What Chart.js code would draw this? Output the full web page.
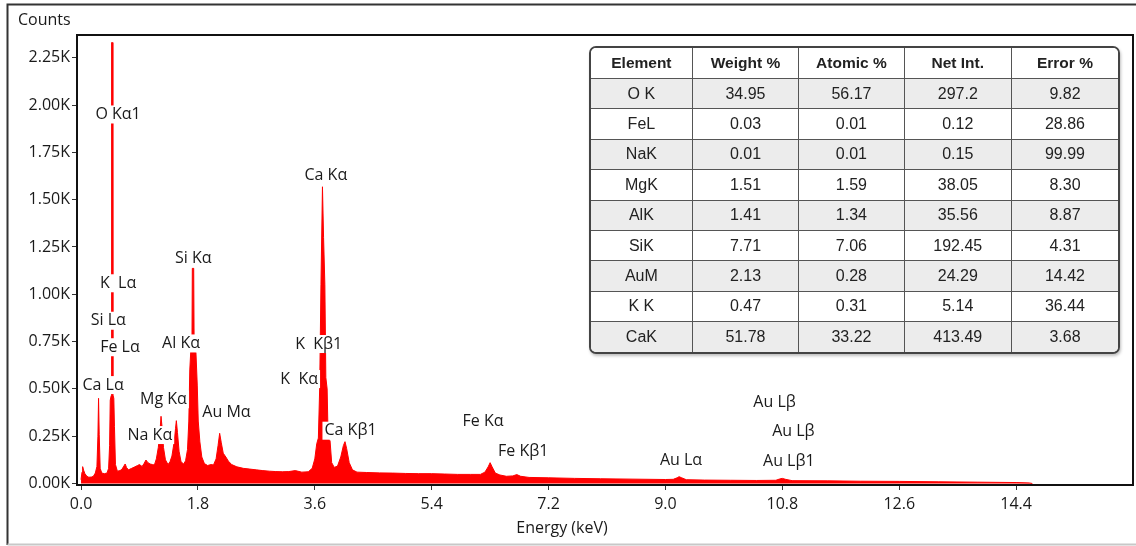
<!DOCTYPE html>
<html>
<head>
<meta charset="utf-8">
<script src="https://cdn.jsdelivr.net/npm/chart.js@4.4.1/dist/chart.umd.min.js"></script>
<style>
    html, body { margin: 0; padding: 0; background: #fff; }
    #wrap { position: relative; width: 1136px; height: 546px; overflow: hidden; }
    #cvs_espectro { position: absolute; left: 0; top: 0; }
    #tabela {
        position: absolute; left: 589px; top: 46px; width: 531px;
        border-collapse: separate; border-spacing: 0;
        border: 2px solid #444; border-radius: 7px; overflow: hidden;
        font-family: "Liberation Sans", Arial, sans-serif; font-size: 16px; color: #222;
        box-shadow: 1px 2px 3px rgba(0, 0, 0, 0.25); background: #fff;
    }
    #tabela th, #tabela td {
        text-align: center; padding: 0; border-right: 1px solid #555; border-bottom: 1px solid #555;
    }
    #tabela th { height: 30px; font-weight: bold; font-size: 15.5px; background: #fff; }
    #tabela td { height: 29.4px; }
    #tabela tr > *:last-child { border-right: none; }
    #tabela tr:last-child td { border-bottom: none; }
    #tabela tbody tr:nth-child(odd) td { background: #ececec; }
    #tabela tbody tr:nth-child(even) td { background: #fff; }
</style>
</head>
<body>
<div id="wrap">
    <canvas id="cvs_espectro" width="1136" height="546"></canvas>
    <table id="tabela"><thead></thead><tbody></tbody></table>
</div>
<script>
// --- espectro EDS ---
const energia = [
    0.00, 0.015, 0.025, 0.04, 0.06, 0.09, 0.12, 0.16, 0.19, 0.22, 0.245, 0.26, 0.27, 0.28, 0.295,
    0.32, 0.36, 0.40, 0.425, 0.44, 0.45, 0.465, 0.471, 0.483, 0.49, 0.505, 0.515, 0.53, 0.56,
    0.60, 0.63, 0.66, 0.68, 0.70, 0.73, 0.78, 0.83, 0.87, 0.90, 0.94, 0.97, 1.00, 1.03, 1.065,
    1.10, 1.13, 1.16, 1.19, 1.215, 1.232, 1.25, 1.27, 1.30, 1.34, 1.37, 1.40, 1.43, 1.455, 1.468,
    1.485, 1.51, 1.54, 1.58, 1.61, 1.64, 1.66, 1.675, 1.69, 1.708, 1.714, 1.735, 1.742, 1.77,
    1.79, 1.805, 1.83, 1.86, 1.90, 1.95, 2.00, 2.04, 2.08, 2.11, 2.135, 2.16, 2.19, 2.23, 2.27,
    2.32, 2.40, 2.50, 2.60, 2.70, 2.80, 2.90, 3.00, 3.10, 3.20, 3.30, 3.40, 3.50, 3.56, 3.60,
    3.63, 3.655, 3.675, 3.695, 3.718, 3.735, 3.755, 3.77, 3.79, 3.805, 3.835, 3.86, 3.90, 3.95,
    4.00, 4.04, 4.065, 4.09, 4.13, 4.18, 4.25, 4.40, 4.60, 4.80, 5.00, 5.20, 5.40, 5.60, 5.80,
    6.00, 6.15, 6.22, 6.27, 6.30, 6.33, 6.38, 6.45, 6.55, 6.65, 6.71, 6.77, 6.90, 7.20, 7.60,
    8.00, 8.50, 9.00, 9.12, 9.18, 9.21, 9.25, 9.32, 9.60, 10.00, 10.40, 10.70, 10.76, 10.80,
    10.85, 10.95, 11.50, 12.00, 12.60, 13.20, 13.80, 14.40, 14.60, 14.65
];
const contagens = [
    20, 60, 89, 70, 52, 38, 33, 34, 38, 55, 90, 250, 450, 260, 80,
    55, 52, 55, 80, 200, 440, 465, 2330, 2330, 470, 450, 300, 100, 65,
    68, 75, 92, 103, 85, 72, 80, 88, 95, 100, 90, 105, 124, 110, 103,
    100, 98, 130, 190, 270, 355, 290, 190, 125, 100, 115, 145, 210, 290, 332,
    270, 170, 115, 103, 120, 180, 330, 600, 700, 720, 1137, 1137, 720, 690,
    520, 330, 220, 140, 105, 95, 100, 98, 130, 200, 265, 215, 160, 140, 118,
    100, 88, 80, 76, 72, 68, 65, 63, 62, 63, 68, 60, 62, 80, 130,
    210, 240, 500, 1050, 1568, 1300, 1050, 560, 500, 240, 225, 110, 85, 92,
    140, 200, 221, 185, 110, 72, 60, 58, 56, 55, 53, 52, 52, 50, 48,
    48, 48, 60, 88, 110, 88, 55, 45, 38, 40, 47, 38, 32, 30, 27,
    25, 23, 21, 22, 30, 36, 30, 20, 18, 17, 16, 17, 24, 27,
    22, 15, 14, 12, 11, 9, 7, 5, 3, 0
];

const ticksX = [0, 1.8, 3.6, 5.4, 7.2, 9.0, 10.8, 12.6, 14.4];
const ticksY = [0, 250, 500, 750, 1000, 1250, 1500, 1750, 2000, 2250];

// --- rótulos dos picos (keV, contagens) ---
const rotuloTexto = ["O Kα1", "K  Lα", "Si Lα", "Fe Lα", "Ca Lα", "Mg Kα", "Na Kα", "Al Kα", "Si Kα", "Au Mα",
    "K  Kβ1", "K  Kα", "Ca Kα", "Ca Kβ1", "Fe Kα", "Fe Kβ1", "Au Lα", "Au Lβ", "Au Lβ", "Au Lβ1"];
const rotuloX = [0.57, 0.57, 0.42, 0.60, 0.34, 1.27, 1.06, 1.54, 1.73, 2.24,
    3.66, 3.36, 3.77, 4.15, 6.19, 6.81, 9.24, 10.68, 10.97, 10.90];
const rotuloY = [1950, 1058, 860, 720, 520, 445, 256, 740, 1190, 374,
    737, 552, 1626, 279, 326, 168, 124, 430, 277, 119];

// --- tabela de quantificação ---
const colunas = ["Element", "Weight %", "Atomic %", "Net Int.", "Error %"];
const elementos = ["O K", "FeL", "NaK", "MgK", "AlK", "SiK", "AuM", "K K", "CaK"];
const pesoPct = ["34.95", "0.03", "0.01", "1.51", "1.41", "7.71", "2.13", "0.47", "51.78"];
const atomicoPct = ["56.17", "0.01", "0.01", "1.59", "1.34", "7.06", "0.28", "0.31", "33.22"];
const intLiquida = ["297.2", "0.12", "0.15", "38.05", "35.56", "192.45", "24.29", "5.14", "413.49"];
const erroPct = ["9.82", "28.86", "99.99", "8.30", "8.87", "4.31", "14.42", "36.44", "3.68"];

const larguras = [102, 107, 106, 108, 108];
var cab = "<tr>";
for (var c = 0; c < colunas.length; c++) {
    cab += `<th style="width:${larguras[c]}px">${colunas[c]}</th>`;
}
document.querySelector("#tabela thead").innerHTML = cab + "</tr>";
var corpo = "";
for (var i = 0; i < elementos.length; i++) {
    corpo += `<tr><td>${elementos[i]}</td><td>${pesoPct[i]}</td><td>${atomicoPct[i]}</td><td>${intLiquida[i]}</td><td>${erroPct[i]}</td></tr>`;
}
document.querySelector("#tabela tbody").innerHTML = corpo;

const fonte = '"Open Sans", "DejaVu Sans", sans-serif';
const corTexto = "#1a1a1a";

// moldura, títulos e borda externa
const molduraPlugin = {
    id: "moldura",
    beforeDraw(chart) {
        const { ctx } = chart;
        ctx.save();
        ctx.fillStyle = "#fff";
        ctx.fillRect(0, 0, chart.width, chart.height);
        ctx.restore();
    },
    afterDraw(chart) {
        const { ctx, chartArea: a } = chart;
        ctx.save();
        ctx.strokeStyle = "#111";
        ctx.lineWidth = 2;
        ctx.strokeRect(a.left, a.top, a.right - a.left, a.bottom - a.top);

        // borda externa
        ctx.strokeStyle = "#333";
        ctx.beginPath();
        ctx.moveTo(1136, 4.5);
        ctx.lineTo(7.5, 4.5);
        ctx.lineTo(7.5, 545);
        ctx.stroke();
        ctx.strokeStyle = "#c8c8c8";
        ctx.beginPath();
        ctx.moveTo(7.5, 544.5);
        ctx.lineTo(1136, 544.5);
        ctx.stroke();

        ctx.fillStyle = corTexto;
        ctx.font = `16px ${fonte}`;
        ctx.textBaseline = "middle";
        ctx.textAlign = "left";
        ctx.fillText("Counts", 18, 20);
        ctx.textAlign = "center";
        ctx.fillText("Energy (keV)", 562, 528);
        ctx.restore();
    }
};

// rótulos dos picos com fundo branco
const rotulosPlugin = {
    id: "rotulos",
    afterDatasetsDraw(chart) {
        const { ctx, scales: { x, y } } = chart;
        ctx.save();
        ctx.font = `16px ${fonte}`;
        ctx.textAlign = "center";
        ctx.textBaseline = "middle";
        for (var i = 0; i < rotuloTexto.length; i++) {
            const px = x.getPixelForValue(rotuloX[i]);
            const py = y.getPixelForValue(rotuloY[i]);
            const w = ctx.measureText(rotuloTexto[i]).width;
            ctx.fillStyle = "#fff";
            ctx.fillRect(px - w / 2 - 2, py - 9, w + 4, 18);
            ctx.fillStyle = corTexto;
            ctx.fillText(rotuloTexto[i], px, py);
        }
        ctx.restore();
    }
};

const pontos = energia.map((e, i) => ({ x: e, y: contagens[i] }));

new Chart(document.getElementById("cvs_espectro"), {
    type: "line",
    data: {
        datasets: [{
            data: pontos,
            borderColor: "#ff0000",
            backgroundColor: "#ff0000",
            borderWidth: 1,
            pointRadius: 0,
            fill: "origin",
            tension: 0
        }]
    },
    options: {
        responsive: false,
        animation: false,
        layout: { padding: { left: 0, right: 3, top: 35, bottom: 0 } },
        plugins: { legend: { display: false }, tooltip: { enabled: false } },
        scales: {
            x: {
                type: "linear",
                min: -0.062,
                max: 16.2,
                afterBuildTicks: s => { s.ticks = ticksX.map(v => ({ value: v })); },
                afterFit: s => { s.height = 61; },
                ticks: {
                    callback: v => Number(v).toFixed(1),
                    font: { family: fonte, size: 16 },
                    color: corTexto,
                    padding: 5,
                    maxRotation: 0,
                    autoSkip: false
                },
                grid: { drawOnChartArea: false, tickLength: 5, color: "#333" },
                border: { display: false }
            },
            y: {
                min: -8,
                max: 2370,
                afterBuildTicks: s => { s.ticks = ticksY.map(v => ({ value: v })); },
                afterFit: s => { s.width = 77; },
                ticks: {
                    callback: v => (v / 1000).toFixed(2) + "K",
                    font: { family: fonte, size: 16 },
                    color: corTexto,
                    padding: 2,
                    autoSkip: false
                },
                grid: { drawOnChartArea: false, tickLength: 5, color: "#333" },
                border: { display: false }
            }
        }
    },
    plugins: [molduraPlugin, rotulosPlugin]
});
</script>
</body>
</html>
